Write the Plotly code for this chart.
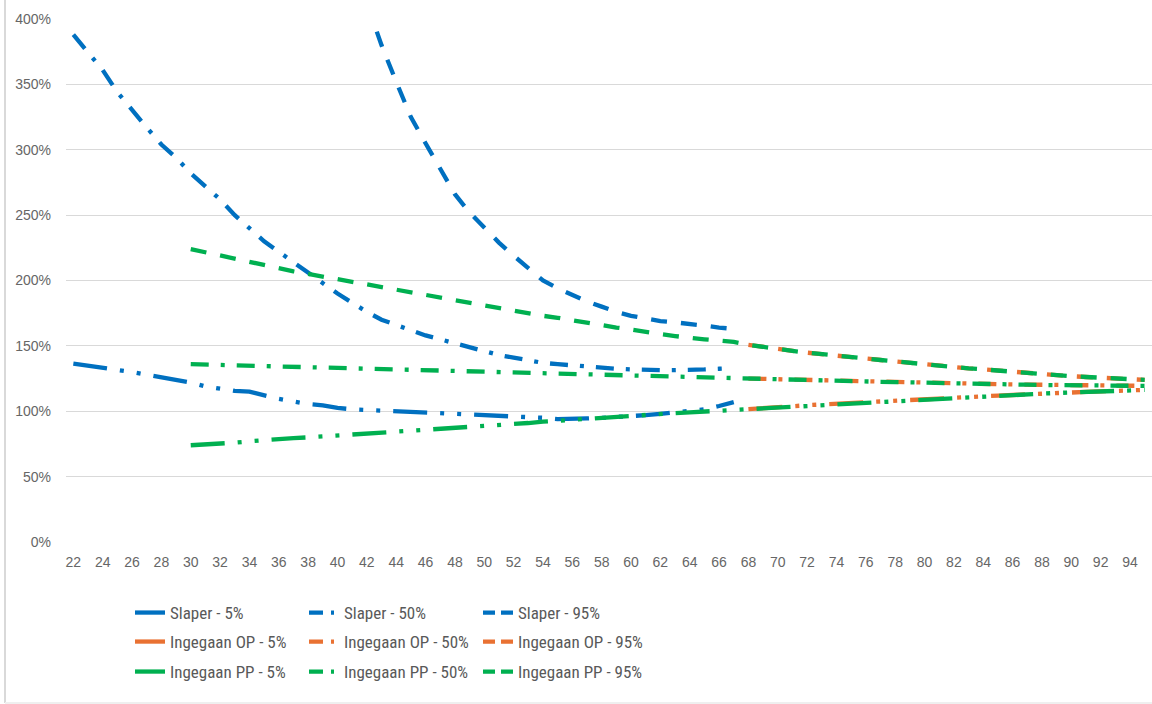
import plotly.graph_objects as go

# ---------------- data ----------------
slaper_ages = list(range(22, 68))
slaper95_ages = list(range(42, 68))
pp_ages = list(range(30, 96))
op_ages = list(range(68, 96))

slaper_5 = [136.5, 135, 133, 131.5, 130, 128, 126, 124.5, 122, 119, 117, 115.5, 115, 112, 109.5,
            107.5, 105.5, 104.5, 102.5, 101.5, 101, 100.5, 100, 99.5, 99, 99, 98.5, 98, 97.5, 96.5,
            96, 95.5, 95, 94, 94, 94.5, 95, 95.5, 96.5, 97, 98, 99, 100, 101.5, 104, 107]
slaper_50 = [388, 374, 361, 344, 330, 317, 304, 294, 282, 272, 262, 250, 240, 230, 222, 214, 206,
             198, 190, 183, 176, 170, 166, 162, 158, 155, 152, 149, 146, 143, 141, 139, 137, 136,
             135, 134, 133, 132.5, 132, 131.5, 131.5, 131.5, 131.5, 132, 132.5, 133]
slaper_95 = [412, 380, 352, 325, 305, 285, 266, 252, 240, 229, 219, 209, 200, 194, 189, 184, 180,
             176, 173, 171, 169, 168, 167, 165.5, 164, 163]

op_5 = [101.6, 102.5, 103.3, 104, 104.6, 105.2, 105.7, 106.2, 106.8, 107.4, 108, 108.6, 109.2,
        109.7, 110.2, 110.8, 111.4, 112, 112.6, 113, 113.5, 114, 114.4, 114.8, 115.2, 115.6, 116, 116.3]
op_50 = [125, 124.7, 124.4, 124.1, 123.8, 123.5, 123.2, 122.9, 122.7, 122.5, 122.3, 122, 121.8,
         121.6, 121.3, 121.1, 120.9, 120.7, 120.5, 120.3, 120.1, 120, 119.9, 119.8, 119.7, 119.6,
         119.5, 119.4]
op_95 = [150.8, 149, 147.5, 146.2, 144.8, 143.5, 142.5, 141.5, 140.3, 139.2, 138, 136.8, 135.8,
         134.8, 133.8, 132.8, 132, 131, 130, 129, 128.2, 127.5, 126.8, 126.2, 125.6, 125, 124.5, 124]

pp_5 = [74, 74.5, 75, 76, 77, 78, 78.7, 79.5, 80, 80.7, 81.3, 81.8, 82.6, 83.4, 84.2, 84.8, 85.3,
        86, 86.8, 87.6, 88.4, 89.2, 90, 91, 92, 92.8, 93.6, 94.4, 95.2, 96, 96.7, 97.3, 98, 98.6,
        99.2, 99.8, 100.4, 101, 101.6, 102.5, 103.3, 104, 104.6, 105.2, 105.7, 106.2, 106.8, 107.4,
        108, 108.6, 109.2, 109.7, 110.2, 110.8, 111.4, 112, 112.6, 113, 113.5, 114, 114.4, 114.8,
        115.2, 115.6, 116, 116.3]
pp_50 = [136, 135.7, 135.4, 135.1, 134.8, 134.5, 134.2, 133.9, 133.6, 133.3, 133, 132.6, 132.3,
         132, 131.7, 131.4, 131, 130.7, 130.4, 130.1, 129.8, 129.6, 129.4, 129.2, 129, 128.7,
         128.4, 128, 127.6, 127.2, 126.9, 126.7, 126.5, 126.3, 126, 125.8, 125.6, 125.3, 125,
         124.7, 124.4, 124.1, 123.8, 123.5, 123.2, 122.9, 122.7, 122.5, 122.3, 122, 121.8, 121.6,
         121.3, 121.1, 120.9, 120.7, 120.5, 120.3, 120.1, 120, 119.9, 119.8, 119.7, 119.6, 119.5, 119.4]
pp_95 = [224, 221.5, 219, 216.5, 214, 211.5, 209, 207, 205, 203, 200.5, 198.5, 196.5, 194.5, 192.5,
         190.5, 188.5, 186.5, 184.5, 182.5, 180.5, 179, 177, 175, 173, 171.5, 169.5, 168, 166, 164,
         162.5, 160.5, 159, 157.5, 156, 155, 154, 153, 150.8, 149, 147.5, 146.2, 144.8, 143.5,
         142.5, 141.5, 140.3, 139.2, 138, 136.8, 135.8, 134.8, 133.8, 132.8, 132, 131, 130, 129,
         128.2, 127.5, 126.8, 126.2, 125.6, 125, 124.5, 124]

x_ticks = list(range(22, 96, 2))
y_ticks = [0, 50, 100, 150, 200, 250, 300, 350, 400]

# ---------------- styles ----------------
BLUE = "#0070C0"
ORANGE = "#E97132"
GREEN = "#00B050"
DASH_5 = "34px,13px,4px,13px,4px,13px"
DASH_50 = "18px,12px,4px,12px"
DASH_95 = "16px,14px"
LEG_DASH = {DASH_5: "solid", DASH_50: "14px,8px,3px,20px", DASH_95: "12px,6px,12px,10px"}
LW = 4.3

series = [
    ("Slaper - 5%", slaper_ages, slaper_5, BLUE, DASH_5, "legend"),
    ("Slaper - 50%", slaper_ages, slaper_50, BLUE, DASH_50, "legend"),
    ("Slaper - 95%", slaper95_ages, slaper_95, BLUE, DASH_95, "legend"),
    ("Ingegaan OP - 5%", op_ages, op_5, ORANGE, DASH_5, "legend2"),
    ("Ingegaan OP - 50%", op_ages, op_50, ORANGE, DASH_50, "legend2"),
    ("Ingegaan OP - 95%", op_ages, op_95, ORANGE, DASH_95, "legend2"),
    ("Ingegaan PP - 5%", pp_ages, pp_5, GREEN, DASH_5, "legend3"),
    ("Ingegaan PP - 50%", pp_ages, pp_50, GREEN, DASH_50, "legend3"),
    ("Ingegaan PP - 95%", pp_ages, pp_95, GREEN, DASH_95, "legend3"),
]

fig = go.Figure()
for name, xs, ys, color, dash, lg in series:
    fig.add_trace(go.Scatter(
        x=xs, y=ys, name=name, mode="lines", showlegend=False,
        line=dict(color=color, width=LW, dash=dash),
        hoverinfo="x+y+name",
    ))
# legend keys (Excel shows only the start of each dash pattern)
for name, xs, ys, color, dash, lg in series:
    fig.add_trace(go.Scatter(
        x=[None], y=[None], name=name, mode="lines", legend=lg, showlegend=True,
        line=dict(color=color, width=LW, dash=LEG_DASH[dash]), hoverinfo="skip",
    ))

W, H = 1152, 704
ML, MR, MT, MB = 66, 0, 19, 162
PW, PH = W - ML - MR, H - MT - MB


def px_x(p):
    return (p - ML) / PW


def px_y(p):
    return (H - MB - p) / PH


legend_font = dict(family="Liberation Sans Narrow, Arial Narrow, Roboto Condensed, Liberation Sans, sans-serif",
                   size=17, color="#595959")
leg_common = dict(orientation="h", xanchor="left", yanchor="middle", x=px_x(130),
                  entrywidth=129, entrywidthmode="pixels", font=legend_font,
                  bgcolor="rgba(0,0,0,0)", itemclick=False, itemdoubleclick=False)

fig.update_layout(
    width=W, height=H,
    margin=dict(l=ML, r=MR, t=MT, b=MB, pad=0),
    paper_bgcolor="white", plot_bgcolor="white",
    font=dict(family="Liberation Sans, Arial, sans-serif", size=14, color="#666666"),
    showlegend=True,
    legend=dict(y=px_y(613), **leg_common),
    legend2=dict(y=px_y(642), **leg_common),
    legend3=dict(y=px_y(672), **leg_common),
    xaxis=dict(
        range=[21.5, 95.5], tickmode="array", tickvals=x_ticks,
        ticktext=[str(v) for v in x_ticks], showgrid=False, zeroline=False,
        showline=False, ticks="", ticklabelstandoff=10,
        tickfont=dict(family="Liberation Sans, Arial, sans-serif", size=14, color="#666666"),
        fixedrange=True,
    ),
    yaxis=dict(
        range=[0, 400], tickmode="array", tickvals=y_ticks,
        ticktext=[f"{v}%" for v in y_ticks], showgrid=True, gridcolor="#D9D9D9",
        gridwidth=1, zeroline=False, showline=False, ticks="", ticklabelstandoff=14,
        tickfont=dict(family="Liberation Sans, Arial, sans-serif", size=14, color="#666666"),
        fixedrange=True,
    ),
    shapes=[
        dict(type="line", xref="paper", yref="paper", x0=px_x(5), x1=px_x(5),
             y0=px_y(0), y1=px_y(703), line=dict(color="#D9D9D9", width=2), layer="below"),
        dict(type="line", xref="paper", yref="paper", x0=px_x(5), x1=px_x(1152),
             y0=px_y(703), y1=px_y(703), line=dict(color="#EFEFEF", width=2), layer="below"),
    ],
)

fig.write_html(
    "out.html",
    config={"displayModeBar": False},
    post_script="document.body.style.margin='0';document.body.style.padding='0';",
)
